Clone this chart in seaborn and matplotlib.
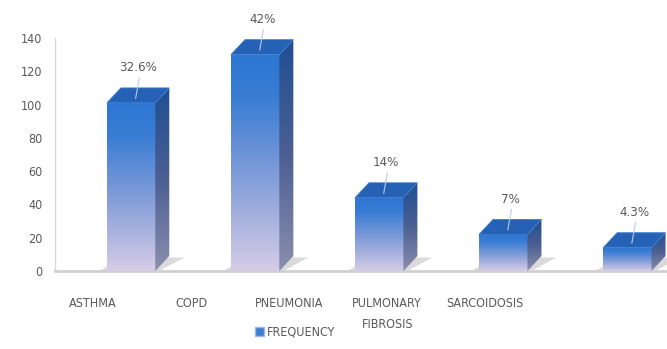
import numpy as np
import pandas as pd
import matplotlib
matplotlib.use("Agg")
import matplotlib.pyplot as plt
from matplotlib.colors import LinearSegmentedColormap
from matplotlib.patches import Polygon, Patch
import seaborn as sns

# data
diseases = ["ASTHMA", "COPD", "PNEUMONIA", "PULMONARY\nFIBROSIS", "SARCOIDOSIS"]
frequency = [101, 130, 44, 22, 14]
percent_labels = ["32.6%", "42%", "14%", "7%", "4.3%"]

df = pd.DataFrame({"disease": diseases, "frequency": frequency})

sns.set_theme(style="white")
plt.rcParams["font.family"] = ["DejaVu Sans"]
plt.rcParams["font.stretch"] = "condensed"

fig = plt.figure(figsize=(6.67, 3.49), dpi=100)
ax = fig.add_axes([0.0825, 0.2235, 0.9175, 0.6676])

sns.barplot(data=df, x="disease", y="frequency", width=0.39, color="#2F7BD6",
            ax=ax, zorder=3)

# fake 3D depth (data units)
dx, dy = 0.113, 9

front_cmap = LinearSegmentedColormap.from_list(
    "front", [(0, "#D6CCE6"), (0.45, "#7E9BD8"), (0.8, "#3A7DD4"), (1, "#2C76D2")])
side_cmap = LinearSegmentedColormap.from_list(
    "side", [(0, "#8A8FAE"), (0.5, "#4C5F93"), (1, "#1F4F92")])
grad = np.linspace(0, 1, 256).reshape(-1, 1)

bars = list(ax.patches)
for i, bar in enumerate(bars):
    x0, w, h = bar.get_x(), bar.get_width(), bar.get_height()
    x1 = x0 + w

    # floor shadow
    ax.add_patch(Polygon([(x0 - 0.06, 0), (x1 + 0.03, 0), (x1 + dx + 0.12, dy * 0.9),
                          (x0 + dx, dy * 0.9)], closed=True, facecolor="#BDBDBD",
                         edgecolor="none", alpha=0.55, zorder=2))

    # front face gradient
    im = ax.imshow(grad, cmap=front_cmap, origin="lower", aspect="auto",
                   extent=[x0, x1, 0, h], zorder=3)
    im.set_clip_path(bar)
    bar.set_facecolor("none")
    bar.set_edgecolor("none")

    # right side face
    side = Polygon([(x1, 0), (x1 + dx, dy), (x1 + dx, h + dy), (x1, h)], closed=True,
                   facecolor="none", edgecolor="none", zorder=3)
    ax.add_patch(side)
    im2 = ax.imshow(grad, cmap=side_cmap, origin="lower", aspect="auto",
                    extent=[x1, x1 + dx, 0, h + dy], zorder=3)
    im2.set_clip_path(side)

    # top face
    ax.add_patch(Polygon([(x0, h), (x1, h), (x1 + dx, h + dy), (x0 + dx, h + dy)],
                         closed=True, facecolor="#2561B5", edgecolor="#3E7BCB",
                         lw=0.6, zorder=4, clip_on=False))

    # leader line + percent label
    cx = i + dx / 2
    ax.plot([cx + 0.01, cx - 0.02], [h + dy + 6, h + dy * 0.3], color="#B8CBE6",
            lw=0.8, zorder=5, clip_on=False)
    ax.text(cx, h + dy + 12, percent_labels[i], ha="center", va="center",
            fontsize=9.5, color="#595959")

ax.set_xlim(-0.613, 4.32)
ax.set_ylim(0, 140)
ax.set_yticks(range(0, 141, 20))
ax.set_xticks([-0.306 + 0.79 * i for i in range(len(diseases))], labels=diseases)
for lab in ax.get_xticklabels():
    lab.set_linespacing(1.8)
    lab.set_va("top")
ax.tick_params(axis="x", length=0, pad=19, labelsize=9, labelcolor="#595959")
ax.tick_params(axis="y", length=0, pad=9, labelsize=9, labelcolor="#595959")
ax.set_xlabel("")
ax.set_ylabel("")

for s in ["top", "right"]:
    ax.spines[s].set_visible(False)
ax.spines["left"].set_color("#D9D9D9")
ax.spines["left"].set_linewidth(1)
ax.spines["bottom"].set_color("#D0D0D0")
ax.spines["bottom"].set_linewidth(2)

fig.legend(handles=[Patch(facecolor="#3C7DD0", edgecolor="#9DB8E0")],
           labels=["FREQUENCY"], loc="center",
           bbox_to_anchor=(295 / 667, 1 - 332 / 349), frameon=False,
           handlelength=0.7, handleheight=0.7, handletextpad=0.2,
           fontsize=9, labelcolor="#595959")

fig.savefig("out.png", dpi=100, facecolor="white")
